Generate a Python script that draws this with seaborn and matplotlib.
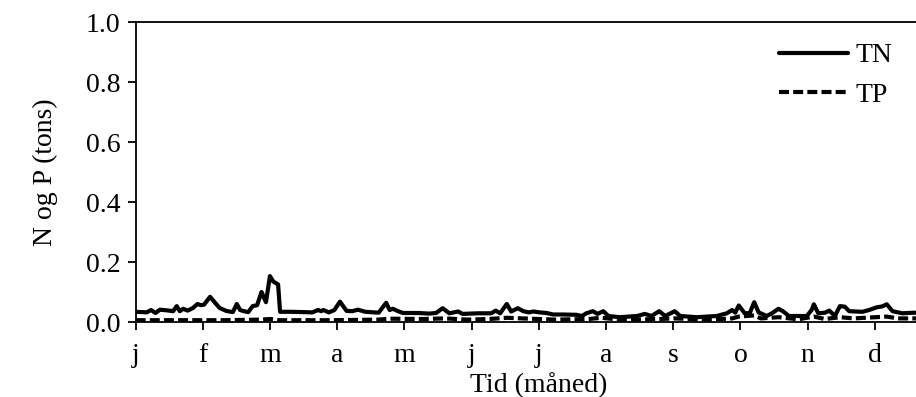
import matplotlib
matplotlib.use("Agg")
import matplotlib.pyplot as plt
import seaborn as sns
import pandas as pd

# ---- data ----
month_labels = ["j", "f", "m", "a", "m", "j", "j", "a", "s", "o", "n", "d"]

tn_days = [0, 3, 5, 7, 9, 11, 14, 17, 18.6, 20, 21.5, 23.6, 26, 28, 29.6, 31, 33.7, 36, 38, 41,
           44, 45.8, 47.3, 49, 51, 53, 55, 57, 59, 60.8, 62.3, 64.5, 65.4, 70, 76, 80, 82.6, 84,
           85, 87.5, 90, 92.5, 95.5, 98, 100.6, 104, 110, 113.4, 115, 116.5, 118.8, 121, 128,
           133, 136, 139, 142, 146, 148, 155, 161, 163, 165, 168, 170, 173, 175.5, 178, 180,
           183, 186, 189, 193.5, 199.5, 202, 204, 207, 209, 211.7, 214, 219, 227, 230.5, 233.5,
           237, 239.7, 244, 246.5, 254, 263, 267.6, 270, 271.4, 273, 275.7, 278, 280, 282,
           285.7, 288, 291, 293, 295.7, 303.8, 306, 307, 309, 312, 314, 316.5, 318.8, 321, 323,
           329, 332, 335.5, 338, 340, 342.6, 347, 352, 358, 364]
tn_vals = [0.034, 0.033, 0.032, 0.040, 0.030, 0.041, 0.039, 0.036, 0.053, 0.036, 0.044, 0.038,
           0.047, 0.060, 0.056, 0.058, 0.084, 0.064, 0.047, 0.037, 0.033, 0.060, 0.040, 0.036,
           0.033, 0.053, 0.056, 0.100, 0.066, 0.153, 0.135, 0.125, 0.034, 0.034, 0.033, 0.032,
           0.040, 0.036, 0.040, 0.032, 0.040, 0.068, 0.037, 0.036, 0.041, 0.034, 0.031, 0.064,
           0.040, 0.044, 0.036, 0.030, 0.030, 0.028, 0.030, 0.046, 0.029, 0.035, 0.027, 0.029,
           0.029, 0.038, 0.029, 0.060, 0.035, 0.046, 0.036, 0.032, 0.035, 0.032, 0.030, 0.025,
           0.025, 0.024, 0.020, 0.029, 0.036, 0.027, 0.036, 0.020, 0.016, 0.020, 0.027, 0.020,
           0.036, 0.020, 0.036, 0.020, 0.016, 0.020, 0.029, 0.040, 0.031, 0.055, 0.029, 0.030,
           0.066, 0.032, 0.020, 0.029, 0.044, 0.036, 0.020, 0.020, 0.040, 0.059, 0.029, 0.031,
           0.038, 0.020, 0.053, 0.051, 0.036, 0.034, 0.040, 0.049, 0.052, 0.059, 0.036, 0.029,
           0.031, 0.030, 0.031]

tp_days = [0, 20, 40, 57, 61, 65, 90, 110, 115, 130, 140, 150, 160, 168, 175, 190, 205, 211,
           220, 237, 244, 260, 270, 273, 280, 283, 291, 300, 307, 312, 319, 325, 340, 345, 364]
tp_vals = [0.006, 0.006, 0.006, 0.008, 0.010, 0.006, 0.006, 0.008, 0.011, 0.010, 0.012, 0.008,
           0.010, 0.014, 0.012, 0.008, 0.010, 0.014, 0.007, 0.010, 0.012, 0.008, 0.012, 0.018,
           0.022, 0.012, 0.016, 0.009, 0.018, 0.010, 0.016, 0.012, 0.018, 0.012, 0.012]

df = pd.concat([
    pd.DataFrame({"dag": tn_days, "verdi": tn_vals, "serie": "TN"}),
    pd.DataFrame({"dag": tp_days, "verdi": tp_vals, "serie": "TP"}),
], ignore_index=True)

# ---- style ----
sns.set_style("ticks")
FS = 20
plt.rcParams.update({
    "font.family": ["Liberation Serif", "DejaVu Serif"],
    "font.size": FS,
    "text.color": "black",
    "axes.labelcolor": "black",
    "xtick.color": "black",
    "ytick.color": "black",
    "axes.edgecolor": "black",
})

fig = plt.figure(figsize=(9.16, 3.97), dpi=100)
ax = fig.add_axes([135.6 / 916, 75 / 397, (942 - 135.6) / 916, 300 / 397])

sns.lineplot(data=df, x="dag", y="verdi", hue="serie", style="serie",
             palette={"TN": "black", "TP": "black"},
             dashes={"TN": "", "TP": (2.4, 1.0)},
             linewidth=3.0, ax=ax, legend=True)

ax.set_xlim(0, 365)
ax.set_ylim(0, 1.0)
ax.set_xticks([i * 365 / 12 for i in range(12)])
ax.set_xticklabels(month_labels, fontsize=FS)
ax.set_yticks([0, 0.2, 0.4, 0.6, 0.8, 1.0])
ax.set_yticklabels(["0.0", "0.2", "0.4", "0.6", "0.8", "1.0"], fontsize=FS)
ax.tick_params(axis="both", direction="out", length=6, width=1.3, colors="black",
               labelcolor="black")
ax.tick_params(axis="x", pad=9)
ax.tick_params(axis="y", pad=5)
for s in ax.spines.values():
    s.set_visible(True)
    s.set_color("black")
    s.set_linewidth(1.3)

ax.set_xlabel("Tid (måned)", fontsize=FS, labelpad=3, color="black")
ax.set_ylabel("N og P (tons)", fontsize=FS, labelpad=20, color="black")

handles, labels = ax.get_legend_handles_labels()
leg = ax.legend(handles=handles, labels=labels, frameon=False, fontsize=FS,
                loc="upper left", bbox_to_anchor=((779 - 135.6) / (942 - 135.6), 0.93),
                borderpad=0, borderaxespad=0,
                handlelength=2.5, handletextpad=0.25, labelspacing=0.5)
for t in leg.get_texts():
    t.set_color("black")

fig.savefig("out.png", dpi=100)
